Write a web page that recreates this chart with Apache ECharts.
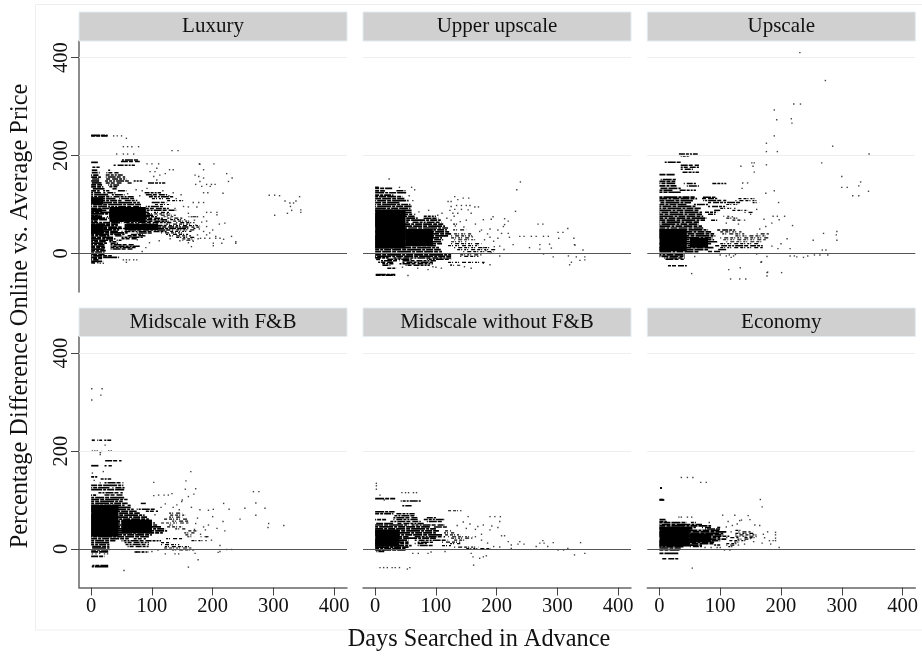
<!DOCTYPE html>
<html><head><meta charset="utf-8">
<style>html,body{margin:0;padding:0;background:#fff}#c{width:922px;height:656px}</style>
<script src="https://cdn.jsdelivr.net/npm/echarts@6/dist/echarts.min.js"></script>
</head><body><div id="c"></div>
<script>
const panelNames=['Luxury','Upper upscale','Upscale','Midscale with F&B','Midscale without F&B','Economy'];
const xTicks=[0,100,200,300,400];
const yTicks=[0,200,400];
const xTitle='Days Searched in Advance';
const yTitle='Percentage Difference Online vs. Average Price';

// Regions where the dots merge to solid black: [x0,x1,y0,y1]
const luxuryBlocks=[[30,90,65,95],[55,110,48,60],[0,20,40,60],[0,18,70,78],[0,18,84,92],[0,20,100,115]];
const upperBlocks=[[0,50,10,90],[50,95,15,50]];
const upscaleBlocks=[[0,45,5,50],[50,80,12,32]];
const fbBlocks=[[0,45,25,90],[50,100,32,60]];
const nofbBlocks=[[0,40,5,40]];
const ecoBlocks=[[0,50,5,45],[50,85,14,32]];

// Horizontal runs of overlapping dots: [y, x0,x1, x0,x1, ...]
const luxuryRuns=[[241,0,27],[240,0,27],[191,49,80],[188,49,80],[186,0,11],[180,37,72],[176,2,14],[170,1,10,28,33],[165,1,14,25,45],[160,0,12,24,52],[156,0,16,24,56],[152,0,15,23,58],[148,0,14,23,62,70,84],[144,1,17,24,50,60,70,92,122],[140,0,18,28,46],[136,0,20,30,44],[132,1,22,35,42],[128,0,14,18,30,44,58],[124,0,16,20,40,88,115],[120,0,28,34,55,90,125],[116,0,30,32,70,95,135],[112,0,40,46,74,100,130],[108,0,50,52,76,125,155],[104,0,80,98,125],[100,0,82,105,130],[96,0,26,28,82,90,118],[92,0,84,90,128],[88,0,25,30,86,88,140],[84,0,95,100,128],[81,0,100,104,130],[78,0,14,28,104,108,140],[75,0,14,26,110,116,135,160,175],[72,0,26,28,118,122,150],[69,0,26,40,125,130,155],[66,0,10,30,128,135,165],[63,0,50,52,132,140,170],[60,0,44,58,110,120,165],[57,0,44,60,125,128,178],[54,0,50,56,160,165,180],[51,0,160,165,172],[48,0,46,56,135,140,170],[45,0,44,50,125,130,165],[42,0,60,75,100,115,150],[39,0,55,62,85,120,160],[36,0,30,38,50,60,90,125,165],[33,0,36,50,85,140,170],[30,0,40,50,75,150,170],[27,0,36,42,50,150,168],[24,0,24,30,45],[21,0,26,32,44],[18,0,22,32,70],[15,0,22,32,80],[12,0,23,32,75],[9,0,22,32,68],[6,0,24],[3,0,22],[-2,0,22],[-5,0,34],[-8,0,46],[-10,0,18],[-13,0,12],[-16,0,20],[-19,0,6,10,12]];
const luxuryDots=[[37,240],[43,240],[50,240],[58,235],[53,218],[60,218],[67,218],[78,218],[42,203],[53,203],[60,203],[70,203],[133,210],[143,210],[92,183],[100,183],[111,183],[108,174],[129,171],[135,171],[178,183],[179,182],[202,183],[185,171],[223,163],[232,154],[226,147],[171,160],[177,157],[185,154],[172,141],[179,147],[190,141],[198,141],[204,141],[182,137],[196,137],[185,124],[192,124],[217,123],[293,119],[302,119],[310,118],[343,116],[319,107],[327,103],[333,103],[337,107],[328,96],[330,88],[345,89],[345,84],[323,82],[302,78],[97,167],[105,167],[113,160],[122,163],[103,157],[108,150],[135,124],[168,104],[177,104],[185,104],[160,95],[174,95],[190,84],[197,84],[207,84],[207,79],[165,75],[175,75],[185,75],[170,68],[190,66],[211,60],[220,62],[180,31],[187,31],[195,31],[205,31],[212,31],[231,35],[238,24],[238,21],[201,21],[201,16],[218,29],[215,21],[165,14],[53,-13],[58,-13],[63,-13],[70,-13],[75,-13],[58,-18],[5,-20],[15,-20],[20,-20],[178,50],[185,45],[195,42],[200,48],[175,38],[190,55],[205,35],[84,128],[92,133],[100,118],[118,128],[128,118],[140,112],[148,120],[152,96],[138,92],[160,82],[172,58],[182,64],[190,38],[176,30],[168,25],[160,22],[146,26],[130,30],[112,26],[96,22],[88,36],[76,28],[66,34],[80,118],[74,130],[60,122],[34,26],[44,14],[90,12],[84,4]];

const upperRuns=[[135,0,6],[133,0,28],[128,0,16,35,50],[124,0,52],[119,0,30],[116,0,45],[112,0,48],[108,0,55],[104,0,40],[100,0,58],[96,0,60],[92,0,58],[88,0,40,45,60],[84,0,60],[80,0,62],[76,0,65,80,100],[72,0,70,78,105],[68,0,108],[64,0,55,60,110],[60,0,112,125,135],[56,0,115],[52,0,120],[48,0,118,125,150],[44,0,122],[40,0,125,130,158],[36,0,120,125,160],[32,0,110,125,158],[28,0,112,130,165],[24,0,110,125,150],[20,0,110,125,175],[16,0,100,120,170],[12,0,105,130,190],[8,0,108,135,200],[4,0,110,145,195],[-3,0,125,140,175],[-6,0,125,140,170],[-9,0,22,30,125],[-12,0,8,20,60,85,125],[-15,8,40,45,100],[-18,5,30,45,95,120,180],[-21,10,30,40,95],[-24,12,25,50,90,120,140],[-30,20,35],[-43,1,33],[-44,1,33]];
const upperDots=[[23,152],[239,146],[233,130],[231,86],[268,60],[276,60],[317,51],[301,43],[309,43],[302,31],[327,31],[328,18],[329,17],[342,7],[271,18],[271,9],[287,19],[290,11],[254,12],[238,35],[245,35],[257,35],[265,35],[277,35],[285,35],[293,-7],[318,-5],[331,-7],[337,-14],[345,-7],[345,-13],[323,-18],[320,-23],[277,-1],[54,-45],[120,106],[125,106],[131,116],[136,110],[145,113],[154,113],[125,96],[134,98],[142,98],[150,98],[156,98],[123,88],[131,90],[142,90],[153,89],[164,95],[170,95],[158,82],[136,82],[128,82],[178,69],[191,70],[194,75],[213,71],[219,66],[213,59],[211,55],[202,48],[189,50],[175,48],[208,41],[219,41],[221,33],[227,18],[202,31],[189,33],[180,28],[191,1],[205,-5],[189,-23],[178,-20],[158,-30],[147,-27],[125,-23],[109,-30],[87,-33],[95,-27],[65,80],[72,85],[95,72],[103,78],[118,72],[125,68],[140,65],[150,68],[165,60],[172,45],[185,40],[195,25],[205,15],[212,8],[60,135],[65,130],[40,135],[45,-28],[70,-30],[100,-28],[132,56],[146,54],[160,34],[178,12],[168,20],[182,6],[196,14],[130,76],[110,82],[88,88],[56,118],[62,108]];

const upscaleRuns=[[203,32,63],[199,35,50],[186,7,37],[180,35,65],[176,35,65],[172,35,55],[166,38,65],[161,0,25],[151,2,27],[147,0,26],[143,0,26,40,60,87,110],[138,0,28,45,65],[133,0,35],[129,0,22,30,60],[125,0,35],[115,0,58,70,92],[112,0,62,70,95,130,160],[108,0,55,72,110,125,160],[104,0,52,80,135,150,165],[100,0,45,55,80,110,130],[96,0,60,80,110],[92,0,68,100,125],[88,0,65,90,100,120,145],[84,0,70,75,95,140,155],[80,0,70,80,92],[76,0,72,105,115],[72,0,78,110,130],[68,0,75,85,95,120,135],[64,0,65],[60,0,65],[56,0,70],[52,0,72],[48,0,80,95,125],[44,0,85,100,135],[40,0,90,100,140,160,180],[36,0,92,125,175],[32,0,88,100,180],[28,0,90,105,175],[24,0,95,110,170],[20,0,85,100,165],[16,0,80,90,170],[12,0,90,100,170],[8,0,80,95,110],[4,0,65,80,100],[-3,0,42],[-6,0,42],[-9,8,42],[-12,10,40],[-25,14,45]];
const upscaleDots=[[231,410],[273,353],[221,305],[232,305],[189,293],[193,273],[217,275],[218,266],[189,240],[176,225],[285,219],[176,208],[194,208],[345,203],[267,185],[156,185],[152,185],[176,181],[134,178],[154,178],[156,166],[300,157],[331,146],[328,138],[300,135],[309,135],[344,127],[318,118],[328,118],[137,144],[145,144],[136,133],[189,128],[175,123],[196,104],[187,76],[194,76],[206,76],[197,69],[185,62],[219,57],[292,45],[270,41],[291,38],[292,27],[253,27],[268,7],[274,7],[222,-5],[226,-7],[215,-5],[237,-8],[244,-5],[255,-3],[264,-3],[277,-3],[177,-6],[160,-1],[167,-18],[168,-17],[133,-29],[114,-33],[177,-39],[178,-38],[201,-39],[177,-46],[117,-52],[132,-52],[142,-52],[53,-41],[58,-6],[110,-5],[118,-8],[122,-5],[115,-3],[125,-2],[100,-3],[200,20],[210,30],[215,10],[195,10],[185,15],[130,60],[140,68],[120,75],[110,62],[150,80],[160,90],[172,70],[175,55],[165,50]];

const fbRuns=[[222,1,6,10,18,20,33],[180,23,50],[170,0,12,22,34],[147,0,10],[143,14,33],[135,22,53],[130,0,53],[125,0,30,35,55],[121,0,55],[115,12,52],[110,0,10,22,52],[105,0,55],[101,0,60],[97,0,52],[93,0,60,80,90],[89,0,55,60,65],[85,0,65],[81,0,70,75,105],[77,0,75,90,110],[73,0,80,125,150],[69,0,88,130,155],[65,0,92,125,150],[61,0,95,120,160],[57,0,100,130,160],[53,0,105,115,160],[49,0,110,125,140],[45,0,115,125,150],[41,0,122,135,155],[37,0,125,160,175],[33,0,118,150,170],[29,0,100,155,165],[25,0,95,155,170,180,195],[21,0,62,70,90,120,150],[17,0,40,50,115,165,190],[13,0,30,55,95,115,130],[9,0,30,55,95,115,145],[5,0,30,60,95,118,165],[2,0,30,120,165],[-2,0,30,130,170],[-6,0,28,68,95],[-15,0,22],[-34,2,28],[-36,1,28]];
const fbDots=[[1,327],[18,327],[16,314],[1,304],[23,212],[2,200],[6,200],[10,200],[15,197],[17,199],[29,200],[33,200],[15,193],[20,158],[2,155],[15,135],[5,140],[103,136],[156,139],[164,158],[103,109],[111,110],[120,110],[127,110],[133,113],[172,123],[155,122],[169,112],[160,107],[149,97],[141,90],[218,93],[271,94],[267,117],[276,117],[227,81],[253,83],[286,83],[271,69],[245,61],[217,56],[207,42],[220,37],[292,52],[291,44],[317,48],[201,81],[193,79],[179,80],[200,66],[193,49],[175,63],[188,39],[198,18],[212,7],[212,-5],[223,-1],[231,-1],[209,-7],[171,-9],[176,-22],[160,-37],[54,-44],[122,-10],[138,-10],[144,-10],[2,-10],[8,-10],[14,-9],[22,-10],[27,-10],[170,40],[180,30],[185,45],[190,25],[172,52],[105,70],[115,85],[122,92],[135,85],[145,80],[150,100],[165,85],[110,-2],[100,-5],[85,-6],[75,-6]];

const nofbRuns=[[103,0,33],[98,42,75],[88,43,60],[78,120,142],[76,0,32],[72,0,30,35,65],[68,30,68],[64,30,70,85,100],[60,0,18,30,70,80,115],[56,25,75,85,110],[52,0,30,35,80],[49,0,55,60,115],[45,0,90,95,120],[41,0,100],[37,0,105,115,125],[33,0,100,110,130],[29,0,110,115,140],[25,0,55,65,115,120,160],[22,0,100,125,160],[18,0,55,65,120,130,150],[14,0,55,70,95,110,140],[11,0,55,65,85,120,140],[7,0,60,70,95,110,125],[4,0,55,130,170],[1,0,50,150,190],[-2,0,50],[-5,2,15]];
const nofbDots=[[2,134],[2,129],[2,122],[44,115],[50,115],[55,115],[63,115],[68,115],[8,110],[15,100],[153,66],[189,66],[197,66],[206,66],[205,56],[192,47],[202,44],[169,46],[178,49],[156,51],[189,39],[208,27],[213,27],[219,15],[224,8],[235,10],[238,15],[245,10],[265,5],[271,12],[276,17],[278,12],[284,5],[293,13],[301,-2],[310,-2],[317,1],[338,13],[328,-12],[345,-9],[224,1],[162,-33],[172,-19],[178,-16],[183,-14],[158,-9],[161,-16],[57,-38],[53,-41],[8,-38],[14,-38],[20,-38],[28,-38],[33,-38],[40,-38],[62,-9],[71,-9],[87,-9],[92,-6],[115,-5],[165,25],[175,18],[185,12],[175,30],[165,40],[195,5],[205,4],[145,55],[135,48],[150,42]];

const ecoRuns=[[125,1,4],[124,1,4],[101,0,8],[100,0,8],[60,0,10],[56,0,12],[54,0,45,50,60],[50,0,70],[47,0,85],[44,0,60,70,85,95,100],[41,0,55,75,100],[38,0,100,125,135],[35,0,110,130,150],[32,0,105,125,155],[29,0,105,125,160],[26,0,115,125,160],[23,0,100,110,130,140,160],[20,0,110,125,150],[17,0,100,115,145],[14,0,90,120,135],[11,0,90,110,130],[8,0,70,90,100,110,125],[5,0,40,50,70,110,120],[2,0,35],[-2,0,33],[-9,0,31],[-20,3,31]];
const ecoDots=[[36,146],[46,146],[55,146],[68,136],[77,136],[166,101],[169,86],[104,69],[124,69],[146,68],[132,58],[149,60],[113,56],[128,51],[135,59],[157,49],[165,48],[32,65],[36,65],[46,65],[53,65],[82,54],[178,35],[191,34],[191,29],[191,22],[191,17],[171,30],[173,23],[181,17],[187,17],[183,10],[169,12],[197,3],[54,-39],[107,-2],[116,-2],[75,3],[85,3],[95,3],[100,3],[150,22],[155,15],[140,10],[130,8],[120,48],[110,45],[118,35]];

const panelBlocks=[luxuryBlocks,upperBlocks,upscaleBlocks,fbBlocks,nofbBlocks,ecoBlocks];
const panelRuns=[luxuryRuns,upperRuns,upscaleRuns,fbRuns,nofbRuns,ecoRuns];
const panelDots=[luxuryDots,upperDots,upscaleDots,fbDots,nofbDots,ecoDots];

const lefts=[79,363,647.3], tops=[41,336.5], W=268, H=251, SERIF='"Liberation Serif","Times New Roman",serif';
const CORE_DASH=[9,1,4,1,14,1,3,1,7,1], MID_DASH=[6,1,3,1,2,1,8,1,4,2], FRINGE_DASH=[3,1,1,2,2,1,1,3,4,2];
const grid=[],xAxis=[],yAxis=[],series=[],graphic=[];
graphic.push({type:'rect',silent:true,z:0,shape:{x:35.5,y:4.5,width:890,height:625.5},style:{fill:'#fff',stroke:'#eeeeee',lineWidth:1}});
panelNames.forEach((name,i)=>{
  const col=i%3,row=Math.floor(i/3),L=lefts[col],T=tops[row];
  grid.push({left:L,top:T,width:W,height:H,containLabel:false});
  xAxis.push({gridIndex:i,type:'value',min:-20,max:421,
    axisLine:{show:row===1,onZero:false,lineStyle:{color:'#666',width:1.5}},
    axisTick:{show:row===1,length:8,customValues:xTicks,lineStyle:{color:'#444',width:1}},
    axisLabel:{show:row===1,customValues:xTicks,margin:9,color:'#111',fontFamily:SERIF,fontSize:20.5},
    splitLine:{show:false}});
  yAxis.push({gridIndex:i,type:'value',min:-78.6,max:433.7,
    axisLine:{show:col===0,onZero:false,lineStyle:{color:'#666',width:1.5}},
    axisTick:{show:col===0,length:8,customValues:yTicks,lineStyle:{color:'#444',width:1}},
    axisLabel:{show:col===0,customValues:yTicks,rotate:90,margin:7,color:'#111',fontFamily:SERIF,fontSize:20.5},
    splitLine:{show:false}});
  series.push({type:'line',xAxisIndex:i,yAxisIndex:i,data:[],z:1,silent:true,
    markLine:{silent:true,animation:false,symbol:'none',label:{show:false},lineStyle:{color:'#eeeeee',width:1,type:'solid'},
      data:yTicks.filter(v=>v!==0).map(v=>({yAxis:v}))}});
  series.push({type:'custom',xAxisIndex:i,yAxisIndex:i,z:2,silent:true,animation:false,clip:false,
    encode:{x:[0,1],y:[2,3]},data:panelBlocks[i],
    renderItem:(p,api)=>{
      const a=api.coord([api.value(0),api.value(3)]),b=api.coord([api.value(1),api.value(2)]);
      return {type:'rect',shape:{x:a[0],y:a[1],width:b[0]-a[0],height:b[1]-a[1]},style:{fill:'#000'}};
    }});
  const runs=[];
  panelRuns[i].forEach(r=>{for(let k=1;k<r.length;k+=2)runs.push([r[k],r[k+1],r[0]]);});
  series.push({type:'custom',xAxisIndex:i,yAxisIndex:i,z:3,silent:true,animation:false,clip:false,
    encode:{x:[0,1],y:2},data:runs,
    renderItem:(p,api)=>{
      const x0=api.value(0),a=api.coord([x0,api.value(2)]),b=api.coord([api.value(1),api.value(2)]);
      const dash=x0<=2?CORE_DASH:(x0<100?MID_DASH:FRINGE_DASH);
      return {type:'line',shape:{x1:a[0],y1:a[1],x2:b[0],y2:b[1]},
        style:{stroke:'#000',lineWidth:x0<=2?1.7:(x0<100?1.5:1.2),lineDash:dash,lineDashOffset:p.dataIndex*5}};
    }});
  series.push({type:'scatter',xAxisIndex:i,yAxisIndex:i,z:3,silent:true,animation:false,data:panelDots[i],
    symbol:'rect',symbolSize:1.4,itemStyle:{color:'#111'}});
  series.push({type:'line',xAxisIndex:i,yAxisIndex:i,data:[],z:4,silent:true,
    markLine:{silent:true,animation:false,symbol:'none',label:{show:false},lineStyle:{color:'#555',width:1.2,type:'solid'},
      data:[{yAxis:0}]}});
  const stripTop=row===0?12:T-28.5;
  graphic.push({type:'rect',silent:true,z:2,shape:{x:L,y:stripTop,width:W,height:T-stripTop},style:{fill:'#d0d0d0',stroke:'#e3ecf2',lineWidth:1}});
  graphic.push({type:'text',silent:true,z:3,x:L+W/2,y:(stripTop+T)/2,style:{text:name,fill:'#111',font:'21px '+SERIF,align:'center',verticalAlign:'middle'}});
});
graphic.push({type:'text',silent:true,z:3,x:479,y:640,style:{text:xTitle,fill:'#111',font:'24.3px '+SERIF,align:'center',verticalAlign:'middle'}});
graphic.push({type:'text',silent:true,z:3,x:21,y:316,rotation:Math.PI/2,style:{text:yTitle,fill:'#111',font:'24.3px '+SERIF,align:'center',verticalAlign:'middle'}});
const chart=echarts.init(document.getElementById('c'),null,{renderer:'canvas'});
chart.setOption({animation:false,backgroundColor:'#fff',grid,xAxis,yAxis,series,graphic,tooltip:{show:false}});
</script></body></html>
